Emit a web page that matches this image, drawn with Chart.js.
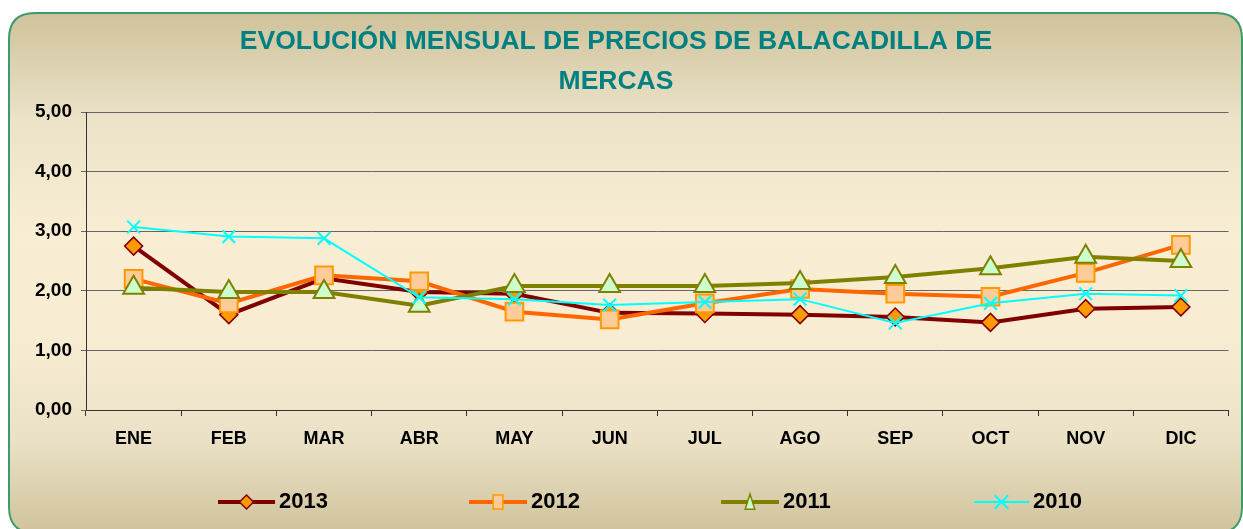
<!DOCTYPE html>
<html>
<head>
<meta charset="utf-8">
<script src="https://cdn.jsdelivr.net/npm/chart.js@4/dist/chart.umd.min.js"></script>
<style>
  html, body { margin: 0; padding: 0; background: #ffffff; }
  #wrap { width: 1243px; height: 529px; position: relative; }
</style>
</head>
<body>
<div id="wrap"><canvas id="c" width="1243" height="529"></canvas></div>
<script>
const months = ['ENE','FEB','MAR','ABR','MAY','JUN','JUL','AGO','SEP','OCT','NOV','DIC'];
const v2013 = [2.75, 1.60, 2.21, 1.98, 1.95, 1.63, 1.62, 1.60, 1.56, 1.47, 1.70, 1.73];
const v2012 = [2.20, 1.79, 2.26, 2.16, 1.65, 1.52, 1.79, 2.03, 1.95, 1.90, 2.30, 2.77];
const v2011 = [2.05, 1.98, 1.98, 1.75, 2.08, 2.08, 2.08, 2.13, 2.23, 2.38, 2.57, 2.50];
const v2010 = [3.07, 2.91, 2.88, 1.89, 1.86, 1.76, 1.81, 1.86, 1.46, 1.79, 1.95, 1.92];
const seriesNames = ['2013', '2012', '2011', '2010'];
const titleLines = ['EVOLUCIÓN MENSUAL DE PRECIOS DE BALACADILLA DE', 'MERCAS'];

const FONT = "'Liberation Sans', Arial, sans-serif";

function marker(ctx, style, x, y, r, fill, stroke, bw) {
  ctx.save();
  ctx.fillStyle = fill; ctx.strokeStyle = stroke; ctx.lineWidth = bw;
  ctx.beginPath();
  if (style === 'rectRot') {
    ctx.moveTo(x - r, y); ctx.lineTo(x, y - r); ctx.lineTo(x + r, y); ctx.lineTo(x, y + r); ctx.closePath();
    ctx.fill(); ctx.stroke();
  } else if (style === 'rect') {
    const s = r;
    ctx.rect(x - s * 0.7, y - s, s * 1.4, s * 2);
    ctx.fill(); ctx.stroke();
  } else if (style === 'triangle') {
    ctx.moveTo(x, y - r); ctx.lineTo(x + r * 0.6, y + r * 0.9); ctx.lineTo(x - r * 0.6, y + r * 0.9); ctx.closePath();
    ctx.fill(); ctx.stroke();
  } else if (style === 'crossRot') {
    const d = r * 0.75;
    ctx.moveTo(x - d, y - d); ctx.lineTo(x + d, y + d);
    ctx.moveTo(x + d, y - d); ctx.lineTo(x - d, y + d);
    ctx.stroke();
  }
  ctx.restore();
}

const cardPlugin = {
  id: 'card',
  beforeDraw(chart) {
    const ctx = chart.ctx;
    const x = 9, y = 13, w = 1233, h = 520, r = 26;
    ctx.save();
    const g = ctx.createLinearGradient(0, y, 0, y + h);
    g.addColorStop(0, '#cfc29b');
    g.addColorStop(0.2, '#ebe2c8');
    g.addColorStop(0.42, '#f9eed3');
    g.addColorStop(0.62, '#f8edd3');
    g.addColorStop(0.82, '#ebe1c6');
    g.addColorStop(1, '#d0c39c');
    ctx.beginPath();
    ctx.moveTo(x + r, y);
    ctx.lineTo(x + w - r, y);
    ctx.quadraticCurveTo(x + w, y, x + w, y + r);
    ctx.lineTo(x + w, y + h - r);
    ctx.quadraticCurveTo(x + w, y + h, x + w - r, y + h);
    ctx.lineTo(x + r, y + h);
    ctx.quadraticCurveTo(x, y + h, x, y + h - r);
    ctx.lineTo(x, y + r);
    ctx.quadraticCurveTo(x, y, x + r, y);
    ctx.closePath();
    ctx.fillStyle = g;
    ctx.fill();
    ctx.lineWidth = 2;
    ctx.strokeStyle = '#3a9c6c';
    ctx.stroke();
    ctx.restore();
  },
  afterDraw(chart) {
    const ctx = chart.ctx;
    const items = [
      { name: seriesNames[0], x1: 218, x2: 275, line: '#800000', lw: 4, style: 'rectRot', r: 7, fill: '#ff9900', stroke: '#800000', bw: 1.5 },
      { name: seriesNames[1], x1: 469, x2: 527, line: '#ff6600', lw: 4, style: 'rect', r: 7, fill: '#ffcc99', stroke: '#ff9900', bw: 1.5 },
      { name: seriesNames[2], x1: 721, x2: 779, line: '#808000', lw: 4, style: 'triangle', r: 8, fill: '#ccffcc', stroke: '#808000', bw: 1.5 },
      { name: seriesNames[3], x1: 974, x2: 1029, line: '#00ffff', lw: 2, style: 'crossRot', r: 9, fill: '#00ffff', stroke: '#00ffff', bw: 2 }
    ];
    const ly = 502;
    ctx.save();
    items.forEach(it => {
      ctx.strokeStyle = it.line; ctx.lineWidth = it.lw;
      ctx.beginPath(); ctx.moveTo(it.x1, ly); ctx.lineTo(it.x2, ly); ctx.stroke();
      marker(ctx, it.style, (it.x1 + it.x2) / 2, ly, it.r, it.fill, it.stroke, it.bw);
      ctx.fillStyle = '#000000';
      ctx.font = 'bold 22px ' + FONT;
      ctx.textBaseline = 'middle';
      ctx.textAlign = 'left';
      ctx.fillText(it.name, it.x2 + 4, ly);
    });
    ctx.restore();
  }
};

function ds(label, data, color, lw, style, radius, fill, stroke, bw, order) {
  return {
    label, data, order,
    borderColor: color, borderWidth: lw, tension: 0, fill: false,
    pointStyle: style, pointRadius: radius, pointHoverRadius: radius,
    pointBackgroundColor: fill, pointBorderColor: stroke, pointBorderWidth: bw
  };
}

new Chart(document.getElementById('c'), {
  type: 'line',
  data: {
    labels: months,
    datasets: [
      ds(seriesNames[0], v2013, '#800000', 4, 'rectRot', 9, '#ff9900', '#800000', 1.5, 4),
      ds(seriesNames[1], v2012, '#ff6600', 4, 'rect', 12.5, '#ffcc99', '#ff9900', 2, 3),
      ds(seriesNames[2], v2011, '#808000', 4, 'triangle', 12, '#ccffcc', '#808000', 2, 2),
      ds(seriesNames[3], v2010, '#00ffff', 2, 'crossRot', 9, '#00ffff', '#00ffff', 2, 1)
    ]
  },
  options: {
    responsive: false,
    animation: false,
    events: [],
    layout: { padding: { left: 0, right: 11, top: 0, bottom: 0 } },
    plugins: {
      legend: { display: false },
      tooltip: { enabled: false },
      title: {
        display: true,
        text: titleLines,
        color: '#008080',
        font: { family: FONT, size: 26.5, weight: 'bold', lineHeight: 1.5 },
        padding: { top: 22, bottom: 10.5 }
      }
    },
    scales: {
      x: {
        offset: true,
        grid: { display: true, drawOnChartArea: false, drawTicks: true, offset: true, tickLength: 6, color: '#333333', lineWidth: 1 },
        border: { display: true, color: '#333333', width: 1 },
        ticks: { color: '#000000', font: { family: FONT, size: 18, weight: 'bold' }, padding: 12, maxRotation: 0, autoSkip: false },
        afterFit(scale) { scale.height = 119; }
      },
      y: {
        min: 0, max: 5,
        grid: { color: '#666666', lineWidth: 1, drawTicks: true, tickLength: 5 },
        border: { display: true, color: '#333333', width: 1 },
        ticks: {
          stepSize: 1, color: '#000000', padding: 9,
          font: { family: FONT, size: 19, weight: 'bold' },
          callback: v => v.toFixed(2).replace('.', ',')
        },
        afterFit(scale) { scale.width = 86; }
      }
    }
  },
  plugins: [cardPlugin]
});
</script>
</body>
</html>
